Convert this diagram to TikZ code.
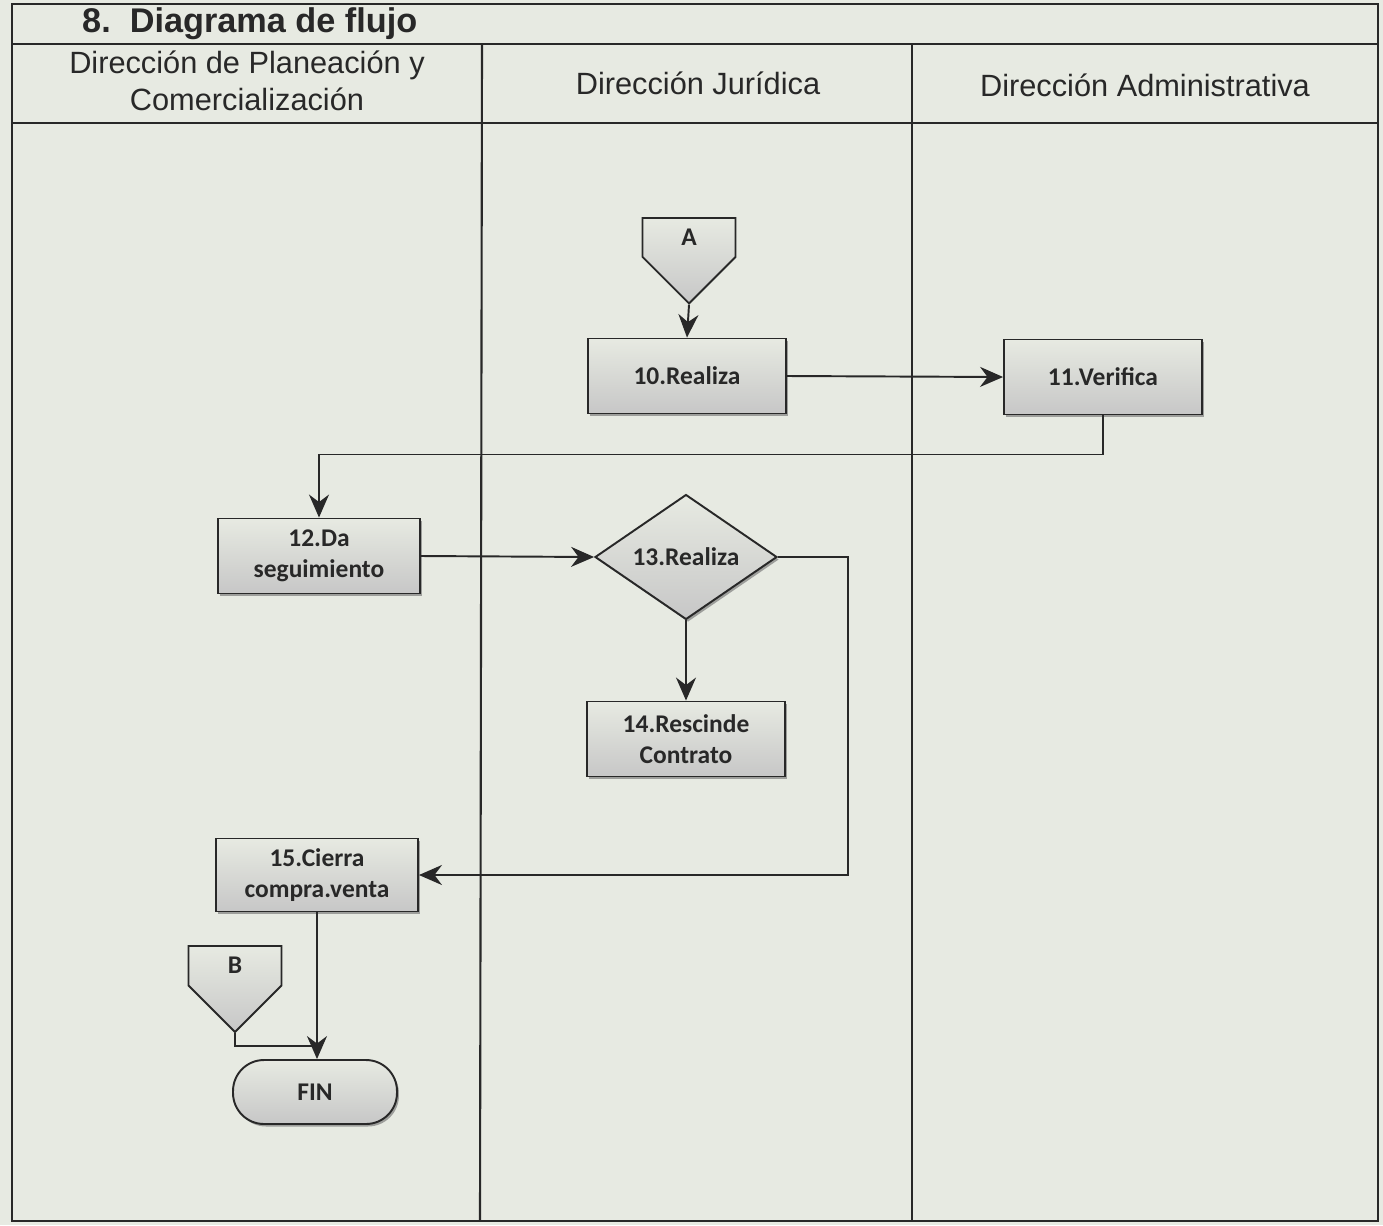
\documentclass[tikz,border=0pt]{standalone}
\usepackage{fontspec}
\setmainfont{Liberation Sans}
\newfontfamily\boxfont{Carlito}
\usetikzlibrary{arrows.meta,shapes.geometric,shapes.symbols,shadows}

\definecolor{paper}{RGB}{231,234,226}
\definecolor{ink}{RGB}{40,40,40}

\begin{document}
\begin{tikzpicture}[
  x=0.02cm,y=-0.02cm,
  rule/.style={draw=ink, line width=1.2pt},
  header/.style={font=\fontsize{17.5}{21}\selectfont, align=center, text=ink},
  process/.style={draw=ink, line width=1.1pt, top color=paper, middle color=paper!95!black, bottom color=black!22,
    minimum width=3.96cm, minimum height=1.5cm, align=center, inner sep=2pt, text=ink,
    font=\boxfont\bfseries\fontsize{14.5}{17.5}\selectfont,
    drop shadow={shadow xshift=0.04cm, shadow yshift=-0.05cm, fill=ink!60, opacity=.7}},
  decision/.style={process, diamond, minimum width=3.64cm, minimum height=2.1cm, inner sep=0pt},
  offpage/.style={draw=ink, line width=1.1pt, signal, signal to=south, signal from=nowhere,
    top color=paper, middle color=paper, bottom color=black!22, text=ink, anchor=north,
    minimum width=1.86cm, minimum height=1.05cm,
    font=\boxfont\bfseries\fontsize{14.5}{17.5}\selectfont},
  terminal/.style={process, rounded corners=0.62cm, minimum width=3.28cm, minimum height=1.28cm},
  flow/.style={draw=ink, line width=1.1pt, -{Stealth[length=0.46cm, width=0.4cm]}},
  link/.style={draw=ink, line width=1.1pt}
]

% Canvas and paper
\path[use as bounding box, fill=paper] (0,0) rectangle (1383,1225);

% Table frame
\draw[rule] (12,4) rectangle (1378,1221);
\draw[rule] (12,44) -- (1378,44);
\draw[rule] (12,123) -- (1378,123);
\draw[rule] (482,44) -- (480,1221);
\draw[rule] (912,44) -- (912,1221);

% Title and lane headers
\node[anchor=west, font=\bfseries\fontsize{19.5}{23}\selectfont, text=ink] (title) at (76,24)
  {8.\ \ Diagrama de flujo};
\node[header] (lanePlan) at (247,81) {Dirección de Planeación y\\Comercialización};
\node[header] (laneJur) at (698,83) {Dirección Jurídica};
\node[header] (laneAdm) at (1145,85) {Dirección Administrativa};

% Components
\node[offpage] (conA) at (689,217) {A};
\node[process] (realiza10) at (687,376) {10.Realiza};
\node[process] (verifica11) at (1103,377) {11.Verifica};
\node[process, minimum width=4.04cm] (seguim12) at (319,556) {12.Da\\seguimiento};
\node[decision] (realiza13) at (686,557) {13.Realiza};
\node[process] (rescinde14) at (686,739) {14.Rescinde\\Contrato};
\node[process, minimum width=4.04cm, minimum height=1.46cm] (cierra15) at (317,875) {15.Cierra\\compra.venta};
\node[offpage] (conB) at (235,945) {B};
\node[terminal] (fin) at (315,1092) {FIN};
\coordinate (merge) at (cierra15.south |- 0,1046);

% Connectors
\draw[flow] (conA.south) -- (realiza10.north);
\draw[flow] (realiza10.east) -- (verifica11.west);
\draw[flow] (verifica11.south) -- ++(0,39) -| (seguim12.north);
\draw[flow] (seguim12.east) -- (realiza13.west);
\draw[flow] (realiza13.south) -- (rescinde14.north);
\draw[flow] (realiza13.east) -- ++(70,0) |- (cierra15.east);
\draw[flow] (cierra15.south) -- (cierra15.south |- fin.north);
\draw[link] (conB.south) |- (merge);

\end{tikzpicture}
\end{document}
